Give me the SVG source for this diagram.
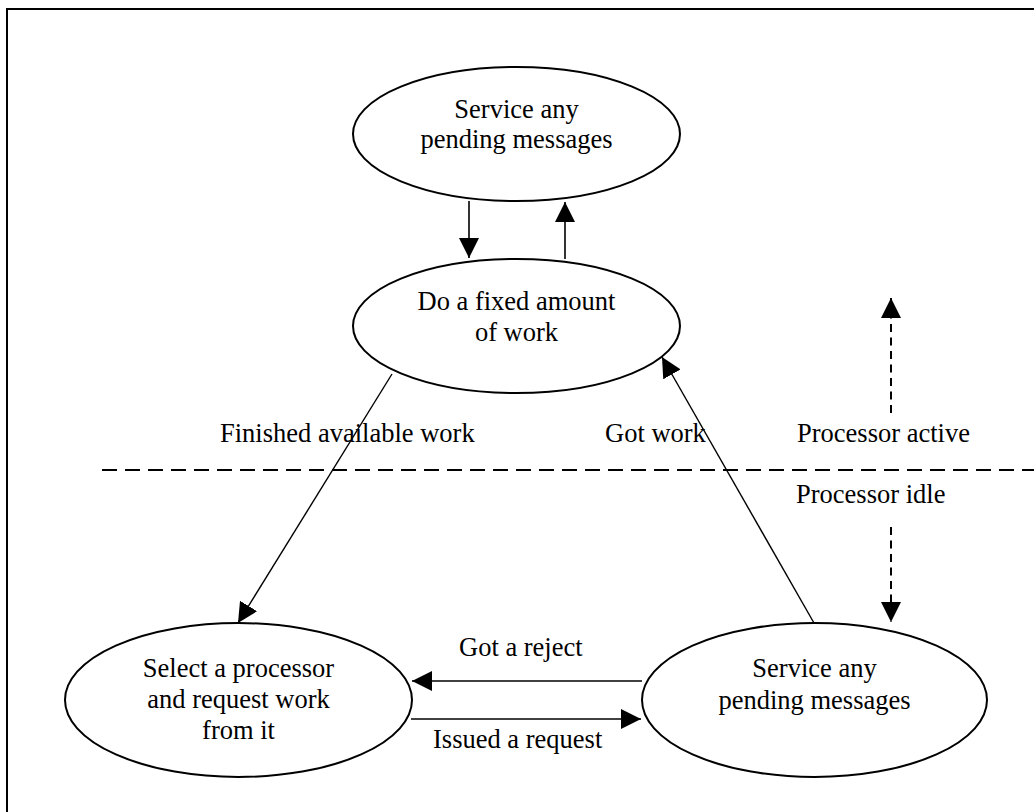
<svg xmlns="http://www.w3.org/2000/svg" width="1034" height="812" viewBox="0 0 1034 812">
<style>
  .node ellipse { fill: #fff; stroke: #000; stroke-width: 2; }
  text { font-family: "Liberation Serif", "Times New Roman", serif; font-size: 26.5px; fill: #000; }
  .node text { text-anchor: middle; }
  .conn { stroke: #000; stroke-width: 1.6; fill: none; }
  .diag { stroke: #000; stroke-width: 1.4; fill: none; }
  .dash { stroke: #000; stroke-width: 2; fill: none; stroke-dasharray: 8 5.5; }
  .divider { stroke: #000; stroke-width: 2.2; fill: none; stroke-dasharray: 15 8; }
</style>
<defs>
  <marker id="arrow" markerUnits="userSpaceOnUse" markerWidth="20" markerHeight="20" refX="20" refY="10" orient="auto" viewBox="0 0 20 20">
    <path d="M0,0 L20,10 L0,20 z" fill="#000" stroke="none"/>
  </marker>
</defs>
<rect width="1034" height="812" fill="#fff"/>
<rect x="7" y="9" width="1100" height="900" fill="none" stroke="#000" stroke-width="2"/>

<g id="node-service-top" class="node">
  <ellipse cx="516.5" cy="134" rx="163.5" ry="67"/>
  <text x="516.5" y="118">Service any</text>
  <text x="516.5" y="148">pending messages</text>
</g>
<g id="node-work" class="node">
  <ellipse cx="516.5" cy="326" rx="163.5" ry="67"/>
  <text x="516.5" y="310">Do a fixed amount</text>
  <text x="516.5" y="341">of work</text>
</g>
<g id="node-select" class="node">
  <ellipse cx="238.5" cy="700" rx="173.5" ry="77"/>
  <text x="238.5" y="677">Select a processor</text>
  <text x="238.5" y="708">and request work</text>
  <text x="238.5" y="739">from it</text>
</g>
<g id="node-service-bottom" class="node">
  <ellipse cx="814.5" cy="700" rx="172.5" ry="77"/>
  <text x="814.5" y="677">Service any</text>
  <text x="814.5" y="709">pending messages</text>
</g>

<g id="connectors">
  <line class="conn" x1="469" y1="201" x2="469" y2="258" marker-end="url(#arrow)"/>
  <line class="conn" x1="565" y1="259" x2="565" y2="202" marker-end="url(#arrow)"/>
  <line class="diag" x1="392" y1="374" x2="238" y2="623" marker-end="url(#arrow)"/>
  <line class="diag" x1="814" y1="623" x2="662" y2="357" marker-end="url(#arrow)"/>
  <line class="conn" x1="642" y1="681" x2="412" y2="681" marker-end="url(#arrow)"/>
  <line class="conn" x1="411" y1="719" x2="641" y2="719" marker-end="url(#arrow)"/>
  <line class="dash" x1="891" y1="413" x2="891" y2="298" marker-end="url(#arrow)"/>
  <line class="dash" x1="891" y1="527" x2="891" y2="622" marker-end="url(#arrow)"/>
  <line class="divider" x1="102" y1="470" x2="1034" y2="470"/>
</g>

<g id="labels">
  <text x="220" y="442">Finished available work</text>
  <text x="605" y="442">Got work</text>
  <text x="797" y="442">Processor active</text>
  <text x="796" y="503">Processor idle</text>
  <text x="459" y="656">Got a reject</text>
  <text x="433" y="748">Issued a request</text>
</g>
</svg>
